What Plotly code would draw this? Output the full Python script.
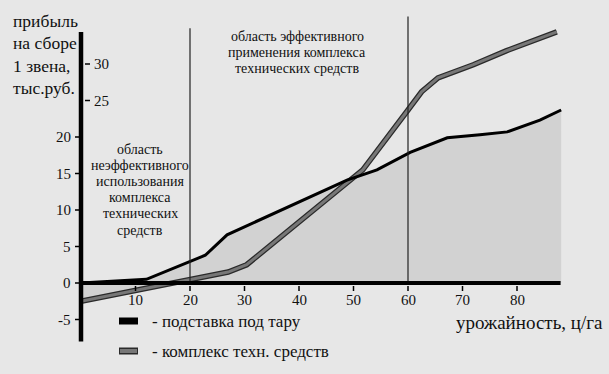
import numpy as np
import plotly.graph_objects as go

# --- data ---
yield_stand = [0, 12, 22.8, 26.8, 48.8, 54.3, 60.4, 67.2, 73.2, 78.2, 84.2, 88.1]
profit_stand = [0, 0.5, 3.8, 6.6, 14.1, 15.5, 17.9, 19.9, 20.3, 20.7, 22.3, 23.7]

yield_complex = [0, 15, 27, 30.4, 51.7, 60, 62.5, 65.5, 72, 78, 87.3]
profit_complex = [-2.5, -0.3, 1.5, 2.5, 15.5, 23.7, 26.2, 28.1, 29.9, 31.8, 34.4]

x_ticks = [10, 20, 30, 40, 50, 60, 70, 80]
y_ticks_left = [-5, 0, 5, 10, 15, 20]
y_ticks_right = [25, 30]
boundaries = [20, 60]

legend_names = ["- подставка под тару", "- комплекс техн. средств"]
y_title_lines = ["прибыль", "на сборе", "1 звена,", "тыс.руб."]
x_title = "урожайность, ц/га"
label_ineff = ["область", "неэффективного", "использования", "комплекса", "технических", "средств"]
label_eff = ["область эффективного", "применения комплекса", "технических средств"]

W, H = 609, 374
X0PX, XSCALE = 81, 5.45
Y0PX, YSCALE = 283, 7.3
xr = [-X0PX / XSCALE, (W - X0PX) / XSCALE]
yr = [(Y0PX - H) / YSCALE, Y0PX / YSCALE]

BG = "#e7e7e7"
FILL = "#d2d2d2"
FONT = "Liberation Serif, Times New Roman, DejaVu Serif, serif"

fig = go.Figure()

# fill region: between the stand line and min(0, complex line)
grid = np.linspace(0, yield_stand[-1], 400)
upper = np.interp(grid, yield_stand, profit_stand)
lower = np.minimum(0, np.interp(grid, yield_complex, profit_complex))
fig.add_trace(go.Scatter(x=grid, y=lower, mode="lines", line=dict(width=0),
                         hoverinfo="skip", showlegend=False))
fig.add_trace(go.Scatter(x=grid, y=upper, mode="lines", line=dict(width=0),
                         fill="tonexty", fillcolor=FILL,
                         hoverinfo="skip", showlegend=False))

# boundary vertical lines
tops = {20: 34.9, 60: 36.5}
for b in boundaries:
    fig.add_shape(type="line", x0=b, x1=b, y0=0, y1=tops[b],
                  line=dict(color="#222", width=1.2))

# complex line (dark outline + gray core)
fig.add_trace(go.Scatter(x=yield_complex, y=profit_complex, mode="lines",
                         line=dict(color="#2a2a2a", width=5.5),
                         hoverinfo="skip", showlegend=False))
fig.add_trace(go.Scatter(x=yield_complex, y=profit_complex, mode="lines",
                         line=dict(color="#777777", width=3),
                         hoverinfo="skip", showlegend=False))
# stand line
fig.add_trace(go.Scatter(x=yield_stand, y=profit_stand, mode="lines",
                         line=dict(color="#000", width=3),
                         hoverinfo="skip", showlegend=False))

# axes
fig.add_shape(type="line", x0=0, x1=0, y0=-8.0, y1=34.4,
              line=dict(color="#000", width=4.5))
fig.add_shape(type="line", x0=0, x1=88.0, y0=0, y1=0,
              line=dict(color="#000", width=4))

def px2x(p):
    return (p - X0PX) / XSCALE

def py2y(p):
    return (Y0PX - p) / YSCALE

annos = []

def txt(xp, yp, s, size, anchor="center"):
    annos.append(dict(x=px2x(xp), y=py2y(yp), text=s, xanchor=anchor,
                      yanchor="middle", showarrow=False,
                      font=dict(family=FONT, size=size, color="#111")))

for v in y_ticks_left:
    fig.add_shape(type="line", x0=px2x(75), x1=px2x(81), y0=v, y1=v,
                  line=dict(color="#000", width=1.5))
    annos.append(dict(x=px2x(73), y=v, text=str(v), xanchor="right",
                      yanchor="middle", showarrow=False,
                      font=dict(family=FONT, size=15, color="#111")))
for v in y_ticks_right:
    fig.add_shape(type="line", x0=px2x(85), x1=px2x(90), y0=v, y1=v,
                  line=dict(color="#000", width=1.5))
    annos.append(dict(x=px2x(92), y=v, text=str(v), xanchor="left",
                      yanchor="middle", showarrow=False,
                      font=dict(family=FONT, size=15, color="#111")))
for v in x_ticks:
    fig.add_shape(type="line", x0=v, x1=v, y0=py2y(286), y1=py2y(291),
                  line=dict(color="#000", width=1.5))
    annos.append(dict(x=v, y=py2y(300), text=str(v), xanchor="center",
                      yanchor="middle", showarrow=False,
                      font=dict(family=FONT, size=15, color="#111")))

# y title (one annotation per line for exact spacing)
for i, s in enumerate(y_title_lines):
    txt(11, 21 + 22.3 * i, s, 17.5, "left")
# x title
txt(605, 322, x_title, 19, "right")
# region labels
for i, s in enumerate(label_ineff):
    txt(140, 149 + 16.2 * i, s, 14)
for i, s in enumerate(label_eff):
    txt(297, 36 + 16 * i, s, 14)

# legend
leg_y = [321, 351]
fig.add_trace(go.Scatter(x=[px2x(119), px2x(138)], y=[py2y(leg_y[0])] * 2, mode="lines",
                         line=dict(color="#000", width=7), hoverinfo="skip", showlegend=False))
fig.add_trace(go.Scatter(x=[px2x(119), px2x(138)], y=[py2y(leg_y[1])] * 2, mode="lines",
                         line=dict(color="#2a2a2a", width=7), hoverinfo="skip", showlegend=False))
fig.add_trace(go.Scatter(x=[px2x(120), px2x(137)], y=[py2y(leg_y[1])] * 2, mode="lines",
                         line=dict(color="#777777", width=4), hoverinfo="skip", showlegend=False))
for name, ly in zip(legend_names, leg_y):
    txt(150, ly, name, 17, "left")

fig.update_layout(
    width=W, height=H,
    margin=dict(l=0, r=0, t=0, b=0),
    paper_bgcolor=BG, plot_bgcolor=BG,
    xaxis=dict(range=xr, visible=False, fixedrange=True),
    yaxis=dict(range=yr, visible=False, fixedrange=True),
    annotations=annos,
    showlegend=False,
)

fig.write_html("out.html", config={"displayModeBar": False},
               post_script="document.body.style.margin='0';document.body.style.background='#e7e7e7';")
